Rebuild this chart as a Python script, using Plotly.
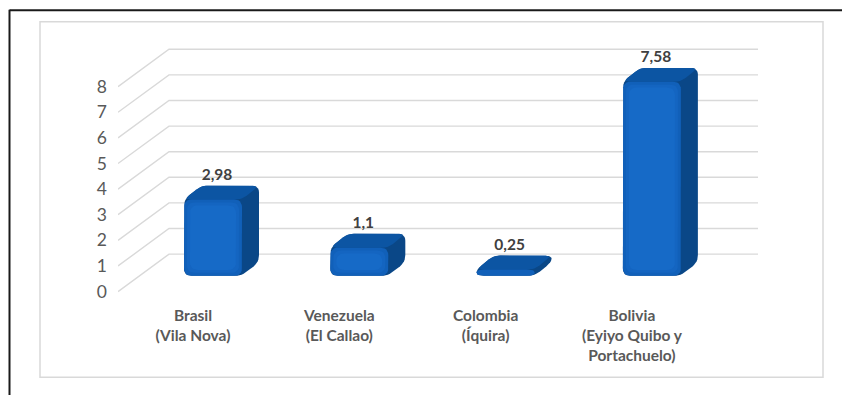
import plotly.graph_objects as go

# Data
categories = ["Brasil<br>(Vila Nova)", "Venezuela<br>(El Callao)", "Colombia<br>(Íquira)",
              "Bolivia<br>(Eyiyo Quibo y<br>Portachuelo)"]
values = [2.98, 1.1, 0.25, 7.58]
y_ticks = [0, 1, 2, 3, 4, 5, 6, 7, 8]

# Canvas / axis geometry (pixels)
W, H = 842, 401
AX_LEFT = 118          # left edge of plotting domain (front side wall)
AX_BOTTOM = 300        # bottom edge of plotting domain
CAT0_PX = 193          # pixel of first category on the front plane
PX_PER_CAT = 146.3
ZERO_PX = 296          # pixel of value 0 on the front plane
PX_PER_UNIT = 26.0

# 3D projection offsets (pixels)
WALL_DX, WALL_DY = 51, -38     # front plane -> back wall
BAR_DX, BAR_DY = 20, -16       # front plane -> front face of the bars
DEPTH_DX, DEPTH_DY = 17, -14   # bar depth
BAR_W = 58
WALL_RIGHT_PX = 758

x_range = [(AX_LEFT - CAT0_PX) / PX_PER_CAT, (W - CAT0_PX) / PX_PER_CAT]
y_range = [-(AX_BOTTOM - ZERO_PX) / PX_PER_UNIT, ZERO_PX / PX_PER_UNIT]


def to_px(x, y):
    return CAT0_PX + x * PX_PER_CAT, ZERO_PX - y * PX_PER_UNIT


def to_data(px, py):
    return (px - CAT0_PX) / PX_PER_CAT, (ZERO_PX - py) / PX_PER_UNIT


def rounded(poly, r, n=6):
    """Round every corner of a pixel polygon with radius r."""
    out = []
    m = len(poly)
    for k in range(m):
        ax, ay = poly[k - 1]
        px, py = poly[k]
        bx, by = poly[(k + 1) % m]
        la = ((ax - px) ** 2 + (ay - py) ** 2) ** 0.5
        lb = ((bx - px) ** 2 + (by - py) ** 2) ** 0.5
        ra = min(r, la / 2) / la if la else 0
        rb = min(r, lb / 2) / lb if lb else 0
        p1 = (px + (ax - px) * ra, py + (ay - py) * ra)
        p2 = (px + (bx - px) * rb, py + (by - py) * rb)
        for j in range(n + 1):
            t = j / n
            qx = (1 - t) ** 2 * p1[0] + 2 * (1 - t) * t * px + t ** 2 * p2[0]
            qy = (1 - t) ** 2 * p1[1] + 2 * (1 - t) * t * py + t ** 2 * p2[1]
            out.append((qx, qy))
    out.append(out[0])
    return out


def poly_trace(poly_px, color):
    pts = [to_data(px, py) for px, py in poly_px]
    return go.Scatter(x=[p[0] for p in pts], y=[p[1] for p in pts], mode="lines",
                      fill="toself", fillcolor=color, line=dict(width=0, color=color),
                      hoverinfo="skip", showlegend=False)


fig = go.Figure()

# Side wall diagonals and back-wall gridlines
gx, gy = [], []
for v in y_ticks:
    fx, fy = to_px(x_range[0], v)
    bx, by = fx + WALL_DX, fy + WALL_DY
    for px, py in [(fx, fy), (bx, by), (WALL_RIGHT_PX, by)]:
        dx, dy = to_data(px, py)
        gx.append(dx)
        gy.append(dy)
    gx.append(None)
    gy.append(None)
fig.add_trace(go.Scatter(x=gx, y=gy, mode="lines", line=dict(color="#d9d9d9", width=1.4),
                         hoverinfo="skip", showlegend=False))

# 3D bars: dark silhouette (side), top face, front face with a soft lighter core
SIDE = "#0a4787"
TOP = "#0c55a3"
FRONT_SHADES = ["#1160b9", "#1465c1", "#166ac7"]
lab_x, lab_y, lab_t = [], [], []
for i, v in enumerate(values):
    cx, base = to_px(i, 0)
    cx += BAR_DX
    B = base + BAR_DY
    T = B - v * PX_PER_UNIT
    L, R = cx - BAR_W / 2, cx + BAR_W / 2
    silhouette = [(L, B), (L, T), (L + DEPTH_DX, T + DEPTH_DY), (R + DEPTH_DX, T + DEPTH_DY),
                  (R + DEPTH_DX, B + DEPTH_DY), (R, B)]
    fig.add_trace(poly_trace(rounded(silhouette, 7), SIDE))
    top = [(L, T), (L + DEPTH_DX, T + DEPTH_DY), (R + DEPTH_DX, T + DEPTH_DY), (R, T)]
    fig.add_trace(poly_trace(rounded(top, 6), TOP))
    h = v * PX_PER_UNIT
    for k, col in enumerate(FRONT_SHADES):
        ins = 3 * k
        if h - 2 * ins < 6:
            break
        face = [(L + ins, B - ins), (L + ins, T + ins), (R - ins, T + ins), (R - ins, B - ins)]
        fig.add_trace(poly_trace(rounded(face, 8), col))
    lx, ly = to_data(cx + 4, T + DEPTH_DY - 2)
    lab_x.append(lx)
    lab_y.append(ly)
    lab_t.append(f"{v:g}".replace(".", ","))

# Value labels
fig.add_trace(go.Scatter(x=lab_x, y=lab_y, mode="text", text=lab_t, textposition="top center",
                         textfont=dict(family="Lato", size=15.5, color="#404040", weight="bold"),
                         hoverinfo="skip", showlegend=False, cliponaxis=False))

fig.update_layout(
    width=W, height=H,
    margin=dict(l=0, r=0, t=0, b=0),
    paper_bgcolor="white", plot_bgcolor="white",
    xaxis=dict(domain=[AX_LEFT / W, 1], range=x_range, showgrid=False, zeroline=False,
               showline=False, ticks="", tickvals=list(range(len(categories))),
               ticktext=categories, tickangle=0,
               tickfont=dict(family="Lato", size=15.5, color="#595959", weight="bold"),
               ticklabelstandoff=9),
    yaxis=dict(domain=[(H - AX_BOTTOM) / H, 1], range=y_range, showgrid=False, zeroline=False,
               showline=False, ticks="", tickvals=y_ticks,
               tickfont=dict(family="Lato", size=17.5, color="#595959"),
               ticklabelstandoff=10),
    shapes=[
        # outer dark frame
        dict(type="line", xref="paper", yref="paper", x0=9.5 / W, x1=9.5 / W, y0=0, y1=1 - 10 / H,
             line=dict(color="#1a1a1a", width=2)),
        dict(type="line", xref="paper", yref="paper", x0=9.5 / W, x1=1, y0=1 - 10.5 / H, y1=1 - 10.5 / H,
             line=dict(color="#1a1a1a", width=2)),
        # chart area border
        dict(type="rect", xref="paper", yref="paper", x0=40 / W, x1=823 / W, y0=1 - 383 / H, y1=1 - 22 / H,
             line=dict(color="#d9d9d9", width=1.5), layer="below"),
    ],
)

fig.write_html("out.html")
